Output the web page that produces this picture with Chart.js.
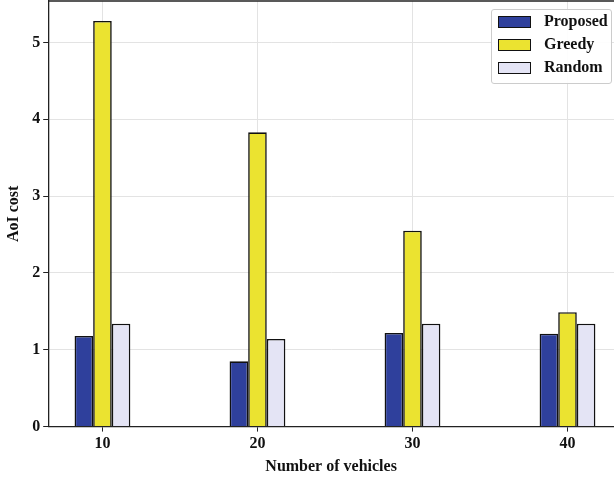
<!DOCTYPE html>
<html>
<head>
<meta charset="utf-8">
<script src="https://cdn.jsdelivr.net/npm/chart.js@4/dist/chart.umd.min.js"></script>
<style>
  html, body { margin: 0; padding: 0; background: #fff; overflow: hidden; }
  #wrap { position: relative; width: 614px; height: 478px; }
  #legend {
    position: absolute; left: 491px; top: 9px; width: 119px; height: 73px;
    border: 1px solid #ccc; border-radius: 3px; background: rgba(255,255,255,0.9);
    font: bold 16px "Liberation Serif", "Times New Roman", serif; color: #111;
  }
  .row { position: absolute; left: 6px; height: 12px; }
  .sw { position: absolute; left: 0; top: 0; width: 31px; height: 10px; border: 1.5px solid #111; }
  .lb { position: absolute; left: 46px; top: -5px; white-space: nowrap; line-height: 20px; }
</style>
</head>
<body>
<div id="wrap">
  <canvas id="chart" width="614" height="478"></canvas>
  <div id="legend"></div>
</div>
<script>
// Datos
const vehicles = [10, 20, 30, 40];
const proposed = [1.18, 0.85, 1.22, 1.21];
const greedy = [5.28, 3.83, 2.55, 1.49];
const random = [1.34, 1.14, 1.34, 1.34];
const yTicks = [0, 1, 2, 3, 4, 5];

const seriesNames = ['Proposed', 'Greedy', 'Random'];
const seriesColors = ['#2f409c', '#ebe330', '#e4e4f5'];
const seriesData = [proposed, greedy, random];

// Leyenda con marco, como en la figura original
const legend = document.getElementById('legend');
seriesNames.forEach((name, i) => {
    const row = document.createElement('div');
    row.className = 'row';
    row.style.top = (6 + i * 23) + 'px';
    row.innerHTML = `<div class="sw" style="background:${seriesColors[i]}"></div><div class="lb">${name}</div>`;
    legend.appendChild(row);
});

// Marco superior del área del gráfico
const topBorder = {
    id: 'topBorder',
    afterDraw(chart) {
        const { ctx, chartArea } = chart;
        ctx.save();
        ctx.strokeStyle = '#222';
        ctx.lineWidth = 1.3;
        ctx.beginPath();
        ctx.moveTo(chartArea.left, chartArea.top);
        ctx.lineTo(chartArea.right, chartArea.top);
        ctx.stroke();
        ctx.restore();
    }
};

const font = { family: '"Liberation Serif", "Times New Roman", serif', weight: 'bold', size: 16 };

new Chart(document.getElementById('chart'), {
    type: 'bar',
    data: {
        datasets: seriesNames.map((name, i) => ({
            label: name,
            data: vehicles.map((v, j) => ({ x: v, y: seriesData[i][j] })),
            backgroundColor: seriesColors[i],
            borderColor: '#111',
            borderWidth: 1.6,
            borderSkipped: 'bottom',
            categoryPercentage: 0.36,
            barPercentage: 1.0
        }))
    },
    options: {
        responsive: false,
        animation: false,
        layout: { padding: { top: 1, right: 0, left: 4, bottom: 0 } },
        plugins: { legend: { display: false }, tooltip: { enabled: false } },
        scales: {
            x: {
                type: 'linear',
                offset: false,
                min: 6.5,
                max: 43.0,
                afterBuildTicks: axis => { axis.ticks = vehicles.map(v => ({ value: v })); },
                ticks: { font: font, color: '#111', padding: 3, maxRotation: 0 },
                grid: { offset: false, color: '#e3e3e3', tickColor: '#222', tickLength: 5 },
                border: { color: '#222', width: 1.3 },
                title: { display: true, text: 'Number of vehicles', font: font, color: '#111', padding: { top: 0, bottom: 2 } }
            },
            y: {
                min: 0,
                max: 5.54,
                afterBuildTicks: axis => { axis.ticks = yTicks.map(v => ({ value: v })); },
                afterFit: axis => { axis.paddingTop = 0; },
                ticks: { font: font, color: '#111', padding: 3 },
                grid: { color: '#e3e3e3', tickColor: '#222', tickLength: 5 },
                border: { color: '#222', width: 1.3 },
                title: { display: true, text: 'AoI cost', font: font, color: '#111', padding: { top: 0, bottom: 6 } }
            }
        }
    },
    plugins: [topBorder]
});
</script>
</body>
</html>
